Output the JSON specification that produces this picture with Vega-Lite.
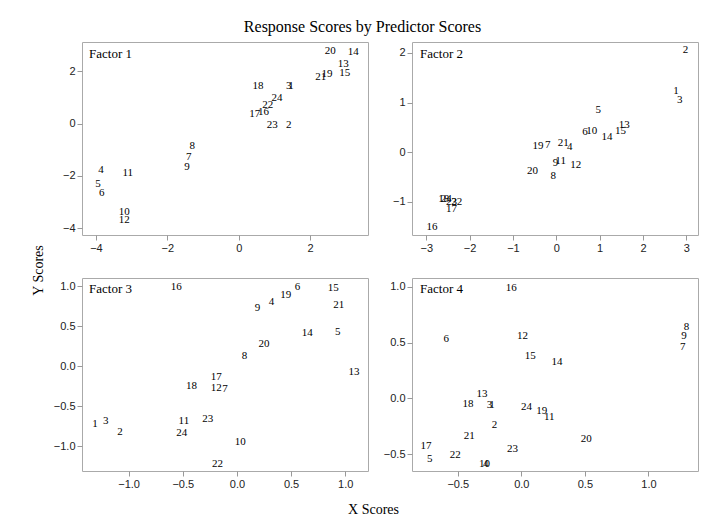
{
  "$schema": "https://vega.github.io/schema/vega-lite/v6.json",
  "padding": {"left": 30, "top": 18, "right": 0, "bottom": 0},
  "background": "white",
  "title": {"text": "Response Scores by Predictor Scores", "font": "Liberation Serif", "fontSize": 16, "fontWeight": "normal", "color": "#000", "offset": 7, "anchor": "middle", "dx": -2},
  "config": {
    "view": {"stroke": "#aaaaaa", "strokeWidth": 1},
    "axis": {"domain": false, "grid": false, "tickColor": "#999999", "tickSize": 5, "labelFont": "Liberation Sans", "labelFontSize": 11, "labelColor": "#222222", "labelPadding": 2, "titleFont": "Liberation Serif", "titleFontSize": 14, "titleFontWeight": "normal", "titleColor": "#000"},
    "title": {"font": "Liberation Serif", "fontSize": 13, "fontWeight": "normal", "color": "#000"},
    "text": {"font": "Liberation Serif", "fontSize": 11, "color": "#000"}
  },
  "datasets": {
    "f1": [
      {"id": "1", "x": 1.46, "y": 1.45}, {"id": "2", "x": 1.40, "y": -0.06}, {"id": "3", "x": 1.40, "y": 1.45},
      {"id": "4", "x": -3.86, "y": -1.77}, {"id": "5", "x": -3.94, "y": -2.30}, {"id": "6", "x": -3.84, "y": -2.67},
      {"id": "7", "x": -1.40, "y": -1.28}, {"id": "8", "x": -1.30, "y": -0.87}, {"id": "9", "x": -1.45, "y": -1.66},
      {"id": "10", "x": -3.21, "y": -3.37}, {"id": "11", "x": -3.11, "y": -1.89}, {"id": "12", "x": -3.21, "y": -3.68},
      {"id": "13", "x": 2.93, "y": 2.26}, {"id": "14", "x": 3.21, "y": 2.74}, {"id": "15", "x": 2.97, "y": 1.93},
      {"id": "16", "x": 0.69, "y": 0.45}, {"id": "17", "x": 0.45, "y": 0.37}, {"id": "18", "x": 0.54, "y": 1.45},
      {"id": "19", "x": 2.47, "y": 1.90}, {"id": "20", "x": 2.56, "y": 2.79}, {"id": "21", "x": 2.30, "y": 1.80},
      {"id": "22", "x": 0.81, "y": 0.73}, {"id": "23", "x": 0.94, "y": -0.06}, {"id": "24", "x": 1.07, "y": 0.98}
    ],
    "f2": [
      {"id": "1", "x": 2.76, "y": 1.24}, {"id": "2", "x": 2.98, "y": 2.06}, {"id": "3", "x": 2.85, "y": 1.05},
      {"id": "4", "x": 0.31, "y": 0.10}, {"id": "5", "x": 0.97, "y": 0.85}, {"id": "6", "x": 0.66, "y": 0.41},
      {"id": "7", "x": -0.20, "y": 0.14}, {"id": "8", "x": -0.07, "y": -0.49}, {"id": "9", "x": -0.02, "y": -0.21},
      {"id": "10", "x": 0.82, "y": 0.42}, {"id": "11", "x": 0.10, "y": -0.18}, {"id": "12", "x": 0.45, "y": -0.26},
      {"id": "13", "x": 1.57, "y": 0.54}, {"id": "14", "x": 1.17, "y": 0.30}, {"id": "15", "x": 1.48, "y": 0.42},
      {"id": "16", "x": -2.87, "y": -1.51}, {"id": "17", "x": -2.42, "y": -1.14}, {"id": "18", "x": -2.60, "y": -0.94},
      {"id": "19", "x": -0.42, "y": 0.13}, {"id": "20", "x": -0.55, "y": -0.39}, {"id": "21", "x": 0.16, "y": 0.18},
      {"id": "22", "x": -2.30, "y": -1.00}, {"id": "23", "x": -2.42, "y": -1.00}, {"id": "24", "x": -2.54, "y": -0.95}
    ],
    "f3": [
      {"id": "1", "x": -1.31, "y": -0.72}, {"id": "2", "x": -1.08, "y": -0.82}, {"id": "3", "x": -1.21, "y": -0.69},
      {"id": "4", "x": 0.32, "y": 0.80}, {"id": "5", "x": 0.93, "y": 0.42}, {"id": "6", "x": 0.56, "y": 0.99},
      {"id": "7", "x": -0.11, "y": -0.28}, {"id": "8", "x": 0.07, "y": 0.13}, {"id": "9", "x": 0.19, "y": 0.73},
      {"id": "10", "x": 0.03, "y": -0.95}, {"id": "11", "x": -0.49, "y": -0.69}, {"id": "12", "x": -0.19, "y": -0.27},
      {"id": "13", "x": 1.08, "y": -0.08}, {"id": "14", "x": 0.65, "y": 0.41}, {"id": "15", "x": 0.89, "y": 0.98},
      {"id": "16", "x": -0.56, "y": 0.99}, {"id": "17", "x": -0.19, "y": -0.14}, {"id": "18", "x": -0.42, "y": -0.25},
      {"id": "19", "x": 0.45, "y": 0.89}, {"id": "20", "x": 0.25, "y": 0.28}, {"id": "21", "x": 0.94, "y": 0.76},
      {"id": "22", "x": -0.18, "y": -1.22}, {"id": "23", "x": -0.27, "y": -0.66}, {"id": "24", "x": -0.51, "y": -0.83}
    ],
    "f4": [
      {"id": "1", "x": -0.23, "y": -0.06}, {"id": "2", "x": -0.21, "y": -0.24}, {"id": "3", "x": -0.25, "y": -0.06},
      {"id": "4", "x": -0.28, "y": -0.59}, {"id": "5", "x": -0.72, "y": -0.54}, {"id": "6", "x": -0.59, "y": 0.53},
      {"id": "7", "x": 1.27, "y": 0.46}, {"id": "8", "x": 1.30, "y": 0.64}, {"id": "9", "x": 1.28, "y": 0.56},
      {"id": "10", "x": -0.29, "y": -0.59}, {"id": "11", "x": 0.22, "y": -0.17}, {"id": "12", "x": 0.01, "y": 0.56},
      {"id": "13", "x": -0.31, "y": 0.04}, {"id": "14", "x": 0.28, "y": 0.33}, {"id": "15", "x": 0.07, "y": 0.38},
      {"id": "16", "x": -0.08, "y": 0.99}, {"id": "17", "x": -0.75, "y": -0.43}, {"id": "18", "x": -0.42, "y": -0.05},
      {"id": "19", "x": 0.16, "y": -0.11}, {"id": "20", "x": 0.51, "y": -0.36}, {"id": "21", "x": -0.41, "y": -0.34},
      {"id": "22", "x": -0.52, "y": -0.51}, {"id": "23", "x": -0.07, "y": -0.45}, {"id": "24", "x": 0.04, "y": -0.08}
    ]
  },
  "columns": 2,
  "spacing": {"row": 43, "column": 44},
  "bounds": "flush",
  "concat": [
    {
      "width": 286, "height": 193,
      "title": {"text": "Factor 1", "offset": -19, "dx": 7, "anchor": "start", "frame": "group"},
      "data": {"name": "f1"},
      "mark": {"type": "text", "align": "center", "baseline": "middle"},
      "encoding": {
        "x": {"field": "x", "type": "quantitative", "scale": {"domain": [-4.39, 3.62], "nice": false, "zero": false}, "axis": {"values": [-4, -2, 0, 2], "title": null}},
        "y": {"field": "y", "type": "quantitative", "scale": {"domain": [-4.26, 3.12], "nice": false, "zero": false}, "axis": {"values": [-4, -2, 0, 2], "title": "Y Scores", "titleX": -44, "titleY": 228, "titleBaseline": "middle", "titleAngle": -90}},
        "text": {"field": "id"}
      }
    },
    {
      "width": 286, "height": 193,
      "title": {"text": "Factor 2", "offset": -19, "dx": 8, "anchor": "start", "frame": "group"},
      "data": {"name": "f2"},
      "mark": {"type": "text", "align": "center", "baseline": "middle"},
      "encoding": {
        "x": {"field": "x", "type": "quantitative", "scale": {"domain": [-3.33, 3.27], "nice": false, "zero": false}, "axis": {"values": [-3, -2, -1, 0, 1, 2, 3], "title": null}},
        "y": {"field": "y", "type": "quantitative", "scale": {"domain": [-1.67, 2.22], "nice": false, "zero": false}, "axis": {"values": [-1, 0, 1, 2], "title": null}},
        "text": {"field": "id"}
      }
    },
    {
      "width": 286, "height": 193,
      "title": {"text": "Factor 3", "offset": -18, "dx": 7, "anchor": "start", "frame": "group"},
      "data": {"name": "f3"},
      "mark": {"type": "text", "align": "center", "baseline": "middle"},
      "encoding": {
        "x": {"field": "x", "type": "quantitative", "scale": {"domain": [-1.43, 1.21], "nice": false, "zero": false}, "axis": {"values": [-1, -0.5, 0, 0.5, 1], "format": ".1f", "title": "X Scores", "titleX": 291, "titleY": 38, "titleBaseline": "middle"}},
        "y": {"field": "y", "type": "quantitative", "scale": {"domain": [-1.31, 1.10], "nice": false, "zero": false}, "axis": {"values": [-1, -0.5, 0, 0.5, 1], "format": ".1f", "title": null}},
        "text": {"field": "id"}
      }
    },
    {
      "width": 286, "height": 193,
      "title": {"text": "Factor 4", "offset": -18, "dx": 8, "anchor": "start", "frame": "group"},
      "data": {"name": "f4"},
      "mark": {"type": "text", "align": "center", "baseline": "middle"},
      "encoding": {
        "x": {"field": "x", "type": "quantitative", "scale": {"domain": [-0.86, 1.39], "nice": false, "zero": false}, "axis": {"values": [-0.5, 0, 0.5, 1], "format": ".1f", "title": null}},
        "y": {"field": "y", "type": "quantitative", "scale": {"domain": [-0.65, 1.08], "nice": false, "zero": false}, "axis": {"values": [-0.5, 0, 0.5, 1], "format": ".1f", "title": null}},
        "text": {"field": "id"}
      }
    }
  ]
}
